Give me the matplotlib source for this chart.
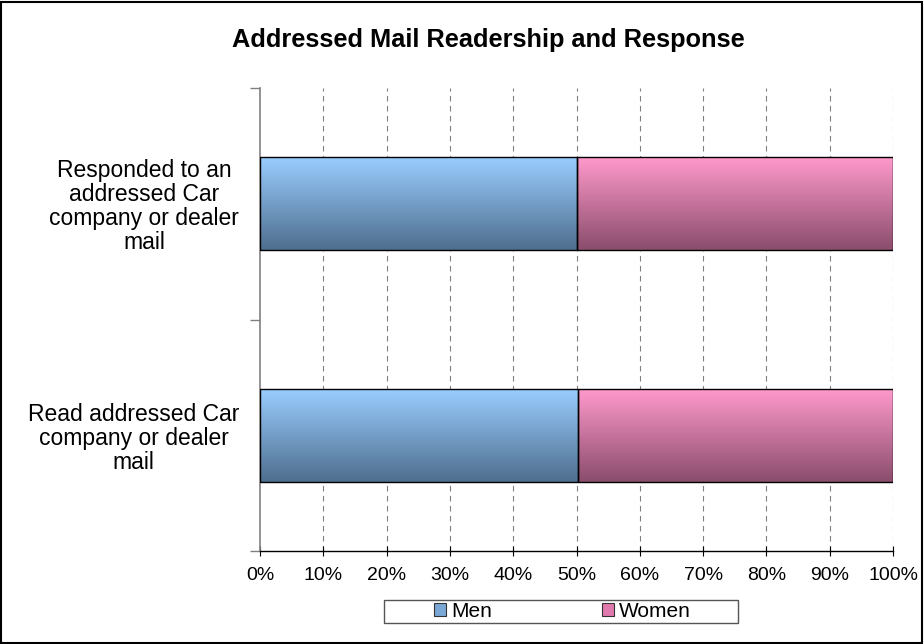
import numpy as np
import matplotlib
matplotlib.use("Agg")
import matplotlib.pyplot as plt
from matplotlib.patches import Rectangle, Patch
from matplotlib.colors import LinearSegmentedColormap
from matplotlib.ticker import FuncFormatter

plt.rcParams['font.family'] = ['Liberation Sans', 'DejaVu Sans']

title = "Addressed Mail Readership and Response"
categories = ["Responded to an\naddressed Car\ncompany or dealer\nmail",
              "Read addressed Car\ncompany or dealer\nmail"]
men = [50.1, 50.3]
women = [49.9, 49.7]
series_names = ["Men", "Women"]
x_ticks = [0, 10, 20, 30, 40, 50, 60, 70, 80, 90, 100]

W, H = 924, 644
fig = plt.figure(figsize=(W / 100, H / 100), dpi=100)
ax = fig.add_axes([260 / W, (H - 551) / H, (893 - 260) / W, (551 - 88) / H])

y = np.arange(len(categories))
height = 0.4
b1 = ax.barh(y, men, height=height, facecolor='none', edgecolor='black', linewidth=1, zorder=3)
b2 = ax.barh(y, women, left=men, height=height, facecolor='none', edgecolor='black', linewidth=1, zorder=3)

cmap_men = LinearSegmentedColormap.from_list('m', ['#9ACDFF', '#4E6E8E'])
cmap_women = LinearSegmentedColormap.from_list('w', ['#FF99CC', '#8A4D6C'])
grad = np.linspace(0, 1, 256).reshape(-1, 1)
for bars, cm in ((b1, cmap_men), (b2, cmap_women)):
    for p in bars:
        x0, y0 = p.get_x(), p.get_y()
        w, h = p.get_width(), p.get_height()
        im = ax.imshow(grad, cmap=cm, aspect='auto',
                       extent=(x0, x0 + w, y0 + h, y0), zorder=2,
                       interpolation='bilinear')
        im.set_clip_path(p)

ax.set_xlim(0, 100)
ax.set_ylim(1.5, -0.5)
ax.set_yticks(y)
ax.set_yticklabels(categories, multialignment='center', fontsize=16.5, linespacing=1.05)
ax.set_yticks([-0.5, 0.5, 1.5], minor=True)
ax.tick_params(axis='y', which='major', length=0, pad=15)
ax.tick_params(axis='y', which='minor', length=7, direction='out', color='#808080', width=1)

ax.set_xticks(x_ticks)
ax.xaxis.set_major_formatter(FuncFormatter(lambda v, p: f"{int(v)}%"))
ax.tick_params(axis='x', direction='inout', length=7, labelsize=14, pad=8, color='black')

for t in x_ticks[1:]:
    ax.axvline(t, color='#808080', linestyle=(0, (5, 4)), linewidth=0.8, zorder=1)

for s in ('top', 'right'):
    ax.spines[s].set_visible(False)
ax.spines['left'].set_color('#808080')
ax.spines['left'].set_linewidth(1.2)
ax.spines['bottom'].set_color('black')
ax.spines['bottom'].set_linewidth(1)

fig.text(488 / W, 1 - 40 / H, title, ha='center', va='center', fontsize=18.3, fontweight='bold')

handles = [Patch(facecolor='#7AA8D6', edgecolor='#333333', linewidth=0.8),
           Patch(facecolor='#E07AAE', edgecolor='#333333', linewidth=0.8)]
leg = fig.legend(handles, series_names, loc='center', bbox_to_anchor=(562.5 / W, 1 - 611.5 / H),
                 ncol=2, fontsize=15, frameon=False,
                 handlelength=0.55, handleheight=0.55, handletextpad=0.25, columnspacing=5.3,
                 borderpad=0, borderaxespad=0)
fig.patches.append(Rectangle((384 / W, 1 - 623 / H), (738 - 384) / W, (623 - 600) / H,
                             transform=fig.transFigure, fill=False, edgecolor='#555555', linewidth=1))

fig.patches.append(Rectangle((1 / W, 1 / H), (W - 3) / W, (H - 3) / H, transform=fig.transFigure,
                             fill=False, edgecolor='black', linewidth=1.5))

fig.savefig('out.png', dpi=100)
